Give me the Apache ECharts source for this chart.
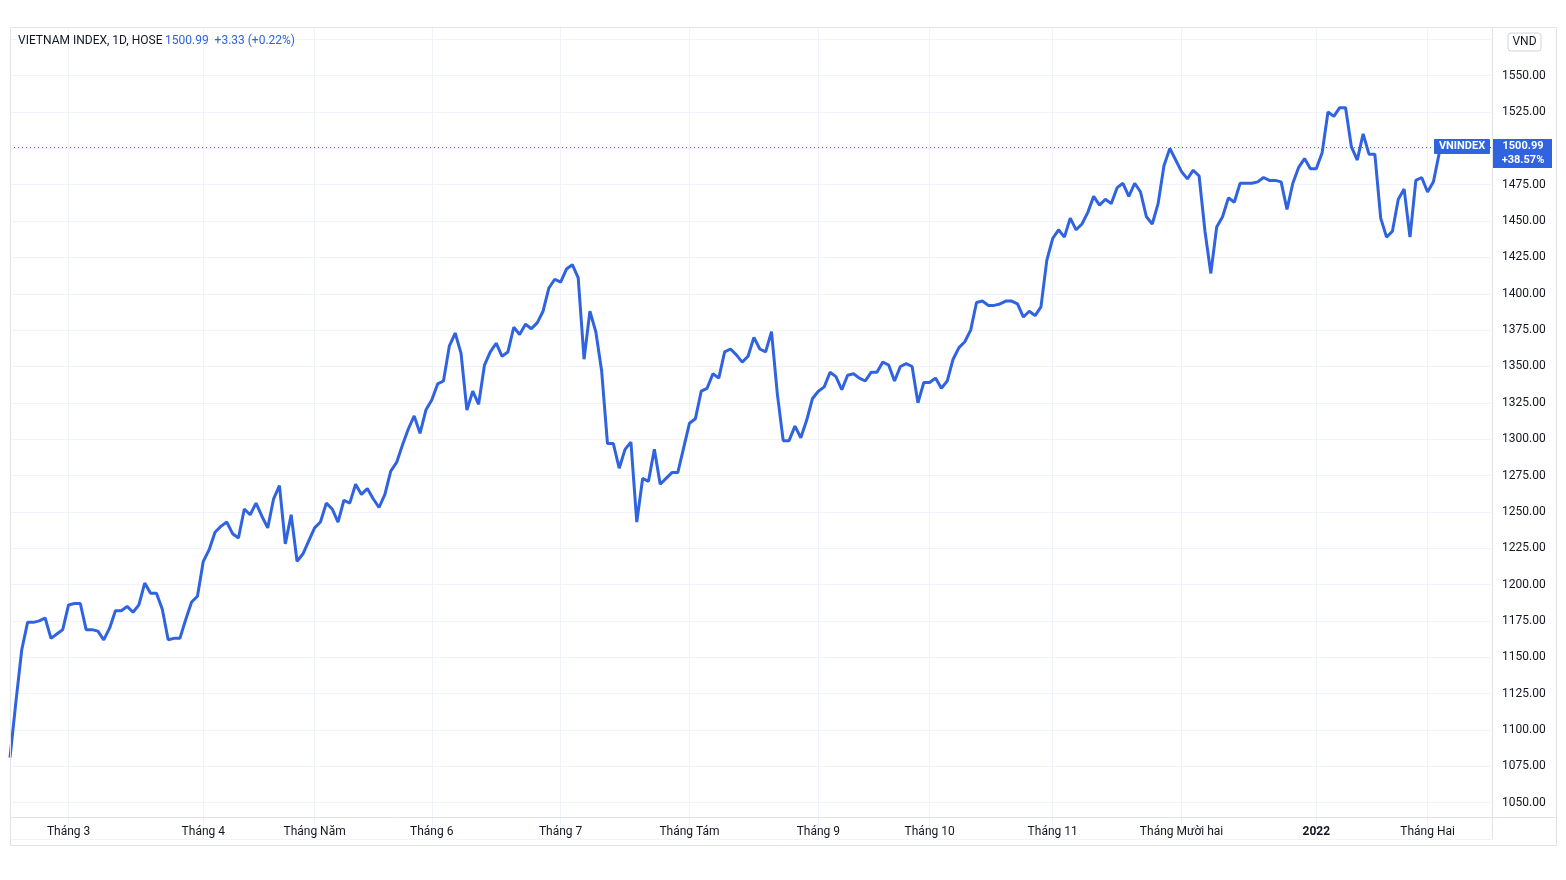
<!DOCTYPE html>
<html><head><meta charset="utf-8">
<script src="https://cdn.jsdelivr.net/npm/echarts@6/dist/echarts.min.js"></script>
<style>html,body{margin:0;padding:0;background:#fff}#c{width:1566px;height:880px}</style>
</head><body><div id="c"></div>
<script>
const values = [1081,1119,1155,1174,1174,1175,1177,1163,1166,1169,1186,1187,1187,1169,1169,1168,1162,1170,1182,1182,1185,1181,1186,1201,1194,1194,1183,1162,1163,1163,1176,1188,1192,1216,1224,1236,1240,1243,1235,1232,1252,1248,1256,1247,1239,1259,1268,1228,1248,1216,1221,1230,1239,1243,1256,1252,1243,1258,1256,1269,1262,1266,1259,1253,1262,1278,1284,1296,1307,1316,1304,1320,1327,1338,1340,1364,1373,1359,1320,1333,1324,1351,1360,1366,1357,1360,1377,1372,1379,1376,1380,1388,1404,1410,1408,1417,1420,1411,1355,1388,1374,1347,1297,1297,1280,1293,1298,1243,1273,1271,1293,1269,1273,1277,1277,1294,1311,1314,1333,1335,1345,1342,1360,1362,1358,1353,1357,1370,1362,1360,1374,1331,1299,1299,1309,1301,1313,1328,1333,1336,1346,1343,1334,1344,1345,1342,1340,1346,1346,1353,1351,1340,1350,1352,1350,1325,1339,1339,1342,1335,1340,1355,1363,1367,1375,1394,1395,1392,1392,1393,1395,1395,1393,1384,1388,1385,1391,1423,1438,1444,1439,1452,1444,1448,1456,1467,1461,1465,1462,1473,1476,1467,1476,1470,1453,1448,1462,1488,1500,1492,1484,1479,1485,1481,1443,1414,1446,1453,1466,1463,1476,1476,1476,1477,1480,1478,1478,1477,1458,1476,1487,1493,1486,1486,1497,1525,1522,1528,1528,1501,1492,1510,1496,1496,1452,1439,1443,1465,1472,1439,1478,1480,1470,1477,1497,1500.99];
const monthLabels = {10:'Tháng 3',33:'Tháng 4',52:'Tháng Năm',72:'Tháng 6',94:'Tháng 7',116:'Tháng Tám',138:'Tháng 9',157:'Tháng 10',178:'Tháng 11',200:'Tháng Mười hai',223:'2022',242:'Tháng Hai'};
const totalSlots = 254;
const yTicksShown = [1050,1075,1100,1125,1150,1175,1200,1225,1250,1275,1300,1325,1350,1375,1400,1425,1450,1475,1525,1550];
const lastPrice = 1500.99;

const cats = [];
for (let i = 0; i < totalSlots; i++) cats.push(String(i));
const isLabel = i => monthLabels[i] !== undefined;
const blue = '#2f63e0';
const font = 'Roboto, "Noto Sans", sans-serif';
const chart = echarts.init(document.getElementById('c'));
chart.setOption({
  animation:false,
  grid:{left:10,right:74,top:3,height:836},
  xAxis:{type:'category',data:cats,boundaryGap:false,
    axisLine:{show:false},axisTick:{show:false},
    axisLabel:{inside:true,margin:1,interval:(i)=>isLabel(i),
      formatter:(v)=>{const t=monthLabels[+v]||''; return t==='2022'?'{b|2022}':t;},
      color:'#131722',fontSize:12,fontFamily:font,
      rich:{b:{fontWeight:'bold',fontSize:12,color:'#131722',fontFamily:font}}},
    splitLine:{show:true,interval:(i)=>isLabel(i),lineStyle:{color:'#f0f3fa',width:1}}},
  yAxis:{type:'value',position:'right',min:1025,max:1600,interval:25,
    axisLine:{show:true,lineStyle:{color:'#e0e3eb'}},axisTick:{show:false},
    axisLabel:{margin:10,color:'#131722',fontSize:12,fontFamily:font,
      formatter:(v)=>yTicksShown.includes(v)?v.toFixed(2):''},
    splitLine:{lineStyle:{color:'#f0f3fa'}}},
  series:[{type:'line',data:values,showSymbol:false,lineStyle:{color:blue,width:3},
    markLine:{symbol:'none',silent:true,label:{show:false},
      lineStyle:{color:'#2f63e0',type:[1,3],width:1},data:[{yAxis:lastPrice}]}}],
  graphic:[
    {type:'rect',shape:{x:0,y:0,width:1566,height:27},style:{fill:'#fff'},z:50},
    {type:'rect',shape:{x:0,y:845.5,width:1566,height:40},style:{fill:'#fff'},z:50},
    {type:'rect',shape:{x:10.5,y:27.5,width:1546,height:818},style:{fill:'none',stroke:'#e0e3eb',lineWidth:1},z:60},
    {type:'line',shape:{x1:10,y1:817.5,x2:1556,y2:817.5},style:{stroke:'#e0e3eb',lineWidth:1},z:60},
    {type:'text',left:18,top:35,style:{text:'VIETNAM INDEX, 1D, HOSE',fill:'#131722',fontSize:12,fontFamily:font},z:70},
    {type:'text',left:165,top:35,style:{text:'1500.99  +3.33 (+0.22%)',fill:'#2f63e0',fontSize:12,fontFamily:font},z:70},
    {type:'rect',shape:{x:1508,y:33,width:33,height:18,r:3},style:{fill:'#fff',stroke:'#d1d4dc'},z:70},
    {type:'text',x:1524.5,y:42,style:{text:'VND',fill:'#131722',fontSize:12,align:'center',verticalAlign:'middle',fontFamily:font},z:71},
    {type:'rect',shape:{x:1434,y:139,width:56,height:15,r:1},style:{fill:'#2f63e0'},z:70},
    {type:'text',x:1462,y:146.5,style:{text:'VNINDEX',fill:'#fff',fontSize:11,fontWeight:'bold',align:'center',verticalAlign:'middle',fontFamily:font},z:71},
    {type:'rect',shape:{x:1493,y:139,width:59,height:29},style:{fill:'#2f63e0'},z:70},
    {type:'text',x:1523,y:153.5,style:{text:'1500.99\n+38.57%',fill:'#fff',fontSize:11,fontWeight:'bold',lineHeight:14,align:'center',verticalAlign:'middle',fontFamily:font},z:71}
  ]
});
</script></body></html>
